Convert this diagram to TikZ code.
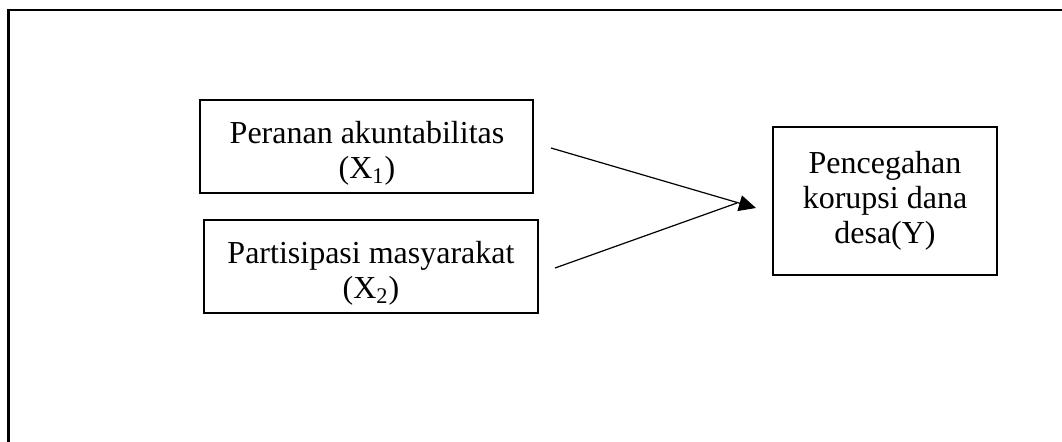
\documentclass[tikz,border=0pt]{standalone}
\usepackage{fontspec}
\setmainfont{Liberation Serif}
\usetikzlibrary{arrows.meta}
\begin{document}
\begin{tikzpicture}[x=0.5pt,y=-0.5pt,
  box/.style={draw,line width=1.2pt,inner sep=0pt},
  txt/.style={align=center,inner sep=0pt,font=\fontsize{16pt}{17.5pt}\selectfont},
  conn/.style={line width=0.6pt}]
\useasboundingbox (0,0) rectangle (1062,441);
\fill[white] (0,0) rectangle (1062,441);
% outer frame (only left and top visible)
\coordinate (fbl) at (8.5,445);
\coordinate (ftl) at (8.5,10);
\coordinate (ftr) at (1066,10);
\draw[line width=1.3pt] (fbl) -- (ftl) -- (ftr);
% boxes
\node[box,minimum width=333*0.5pt,minimum height=93*0.5pt] (b1) at (366.5,146.5) {};
\node[txt] (t1) at (367,153) {Peranan akuntabilitas\\(X\textsubscript{1})};
\node[box,minimum width=334*0.5pt,minimum height=93*0.5pt] (b2) at (371,266.5) {};
\node[txt] (t2) at (371,273) {Partisipasi masyarakat\\(X\textsubscript{2})};
\node[box,minimum width=224*0.5pt,minimum height=148*0.5pt,txt] (y) at (885,201) {Pencegahan\\korupsi dana\\desa(Y)};
% connectors
\coordinate (a1) at (551,148);
\coordinate (a2) at (555,268);
\coordinate (tip) at (756,208);
\coordinate (m) at (737,203);
\draw[conn,-{Triangle[length=8.5pt,width=8pt]}] (a1) -- (tip);
\draw[conn] (a2) -- (m);
\end{tikzpicture}
\end{document}
